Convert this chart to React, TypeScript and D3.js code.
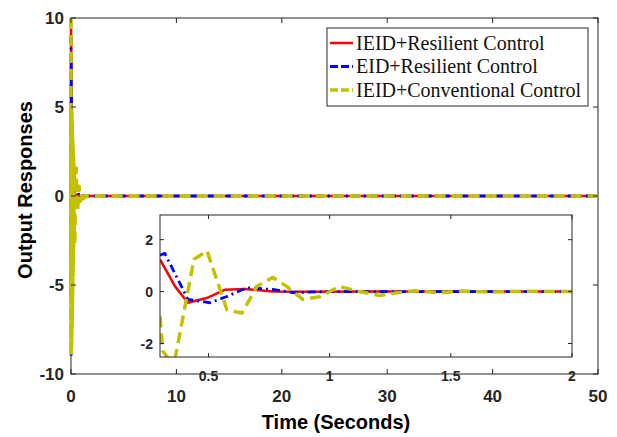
import React from "react";
import * as d3 from "d3";

type Pt = [number, number];

// Main-axis ticks
const mainXTicks = [0, 10, 20, 30, 40, 50];
const mainYTicks = [-10, -5, 0, 5, 10];
const insetXTicks = [0.5, 1, 1.5, 2];
const insetYTicks = [-2, 0, 2];

// Early (t < 0.3 s) oscillations seen as the dense band near t = 0
const redEarly: Pt[] = [
  [0, 10], [0.008, -6], [0.016, 9], [0.026, -5.5], [0.036, 7.5], [0.048, -5], [0.06, 6],
  [0.072, -4.2], [0.085, 5], [0.1, -3.5], [0.115, 4], [0.13, -3], [0.15, 3.2], [0.17, -2.4],
  [0.19, 2.6], [0.21, -1.8], [0.235, 2], [0.26, -1.2], [0.28, 1.5],
];
const blueEarly: Pt[] = [
  [0, 9], [0.01, -9], [0.02, 7.5], [0.032, -7.5], [0.044, 6], [0.056, -6], [0.07, 4.8],
  [0.085, -4.8], [0.1, 3.8], [0.116, -3.8], [0.132, 3], [0.15, -3], [0.17, 2.4], [0.19, -2.4],
  [0.21, 1.9], [0.235, -1.8], [0.26, 1.5], [0.28, -1],
];
const yellowEarly: Pt[] = [
  [0, 10], [0.006, -9], [0.014, 4.8], [0.022, -9], [0.03, 4.8], [0.038, -8.8], [0.046, 4.6],
  [0.054, -8.5], [0.062, 4.5], [0.07, -8.2], [0.078, 4.3], [0.086, -7.8], [0.094, 4.1],
  [0.102, -7.4], [0.11, 3.9], [0.118, -7], [0.126, 3.7], [0.134, -6.5], [0.142, 3.5],
  [0.15, -6], [0.158, 3.3], [0.166, -5.5], [0.174, 3.1], [0.182, -5], [0.19, 2.9],
  [0.198, -4.5], [0.206, 2.7], [0.214, -4], [0.222, 2.5], [0.23, -3.5], [0.238, 2.3],
  [0.246, -3], [0.254, 2.1], [0.262, -2.6], [0.27, 1.9], [0.278, -2.3], [0.286, 1.7],
  [0.294, -2],
];

// Zoomed responses (0.3 s – 2 s)
const redResp: Pt[] = [
  [0.3, 1.24], [0.362, 0.2], [0.415, -0.43], [0.493, -0.25], [0.567, 0.07], [0.65, 0.1],
  [0.765, 0], [0.9, -0.01], [1.2, 0], [2, 0],
];
const blueResp: Pt[] = [
  [0.3, 1.4], [0.32, 1.47], [0.415, -0.3], [0.506, -0.43], [0.576, -0.19], [0.658, 0.15],
  [0.765, 0.08], [0.848, -0.04], [0.988, 0], [2, 0],
];
const yellowResp: Pt[] = [
  [0.3, -0.96], [0.312, -2.3], [0.34, -2.65], [0.362, -2.6], [0.44, 1.24], [0.494, 1.57],
  [0.576, -0.7], [0.638, -0.83], [0.7, 0.2], [0.765, 0.55], [0.823, 0.2], [0.889, -0.3],
  [0.959, -0.2], [1.041, 0.2], [1.123, 0], [1.206, -0.15], [1.276, -0.05], [1.35, 0.03],
  [1.45, -0.04], [1.55, 0.02], [1.65, -0.02], [1.8, 0.01], [2, 0],
];
const tail: Pt[] = [[50, 0]];

const legendLabels = ["IEID+Resilient Control", "EID+Resilient Control", "IEID+Conventional Control"];

const RED = "#ff0000";
const BLUE = "#0000ff";
const YEL = "#c2c200";
const AX = "#262626";

const W = 617, H = 437;
const M = { l: 71, r: 598, t: 18, b: 374 };
const I = { l: 160, r: 572, t: 215, b: 357 };

export default function App() {
  const x = d3.scaleLinear().domain([0, 50]).range([M.l, M.r]);
  const y = d3.scaleLinear().domain([-10, 10]).range([M.b, M.t]);
  const xi = d3.scaleLinear().domain([0.3, 2]).range([I.l, I.r]);
  const yi = d3.scaleLinear().domain([-2.52, 2.95]).range([I.b, I.t]);

  const lineMain = d3.line<Pt>().x((d) => x(d[0])).y((d) => y(d[1]));
  const lineIn = d3.line<Pt>().x((d) => xi(d[0])).y((d) => yi(d[1]));

  const series = [
    { early: redEarly, resp: redResp, color: RED, w: 2.5, dash: undefined as string | undefined },
    { early: blueEarly, resp: blueResp, color: BLUE, w: 2.8, dash: "8 4 2 4" },
    { early: yellowEarly, resp: yellowResp, color: YEL, w: 3.5, dash: "11 6" },
  ];

  const tickFont = "'Liberation Sans', Arial, sans-serif";

  return (
    <svg width={W} height={H} style={{ position: "absolute", left: 0, top: 0, background: "#fff" }}>
      <defs>
        <clipPath id="mainClip">
          <rect x={M.l - 2} y={M.t} width={M.r - M.l + 2} height={M.b - M.t} />
        </clipPath>
        <clipPath id="inClip">
          <rect x={I.l} y={I.t} width={I.r - I.l} height={I.b - I.t} />
        </clipPath>
      </defs>
      <rect x={0} y={0} width={W} height={H} fill="#fff" />
      {/* main axes box */}
      <rect x={M.l} y={M.t} width={M.r - M.l} height={M.b - M.t} fill="none" stroke={AX} strokeWidth={1} />
      {/* main curves */}
      <g clipPath="url(#mainClip)">
        {series.map((s, i) => (
          <path
            key={i}
            d={lineMain([...s.early, ...s.resp, ...tail]) || ""}
            fill="none"
            stroke={s.color}
            strokeWidth={s.w}
            strokeDasharray={s.dash}
            strokeLinejoin="round"
          />
        ))}
      </g>
      {mainXTicks.map((t) => (
        <g key={"mx" + t}>
          <line x1={x(t)} x2={x(t)} y1={M.b} y2={M.b - 5} stroke={AX} />
          <line x1={x(t)} x2={x(t)} y1={M.t} y2={M.t + 5} stroke={AX} />
          <text x={x(t)} y={402} textAnchor="middle" fontFamily={tickFont} fontWeight="bold" fontSize={17} fill="#262626">
            {t}
          </text>
        </g>
      ))}
      {mainYTicks.map((t) => (
        <g key={"my" + t}>
          <line x1={M.l} x2={M.l + 5} y1={y(t)} y2={y(t)} stroke={AX} />
          <line x1={M.r} x2={M.r - 5} y1={y(t)} y2={y(t)} stroke={AX} />
          <text x={64} y={y(t) + 6} textAnchor="end" fontFamily={tickFont} fontWeight="bold" fontSize={17} fill="#262626">
            {t}
          </text>
        </g>
      ))}
      <text x={336} y={429} textAnchor="middle" fontFamily={tickFont} fontWeight="bold" fontSize={20} fill="#000">
        Time (Seconds)
      </text>
      <text
        transform={`translate(32,${(M.t + M.b) / 2 - 6}) rotate(-90)`}
        textAnchor="middle"
        fontFamily={tickFont}
        fontWeight="bold"
        fontSize={20}
        fill="#000"
      >
        Output Responses
      </text>

      {/* inset */}
      <rect x={I.l} y={I.t} width={I.r - I.l} height={I.b - I.t} fill="#fff" />
      <g clipPath="url(#inClip)">
        {series.map((s, i) => (
          <path
            key={i}
            d={lineIn(s.resp) || ""}
            fill="none"
            stroke={s.color}
            strokeWidth={s.w}
            strokeDasharray={s.dash}
            strokeLinejoin="round"
          />
        ))}
      </g>
      <rect x={I.l} y={I.t} width={I.r - I.l} height={I.b - I.t} fill="none" stroke={AX} strokeWidth={1} />
      {insetXTicks.map((t) => (
        <g key={"ix" + t}>
          <line x1={xi(t)} x2={xi(t)} y1={I.b} y2={I.b - 4} stroke={AX} />
          <line x1={xi(t)} x2={xi(t)} y1={I.t} y2={I.t + 4} stroke={AX} />
          <text x={xi(t)} y={381} textAnchor="middle" fontFamily={tickFont} fontWeight="bold" fontSize={14} fill="#262626">
            {t}
          </text>
        </g>
      ))}
      {insetYTicks.map((t) => (
        <g key={"iy" + t}>
          <line x1={I.l} x2={I.l + 4} y1={yi(t)} y2={yi(t)} stroke={AX} />
          <line x1={I.r} x2={I.r - 4} y1={yi(t)} y2={yi(t)} stroke={AX} />
          <text x={153} y={yi(t) + 5} textAnchor="end" fontFamily={tickFont} fontWeight="bold" fontSize={14} fill="#262626">
            {t}
          </text>
        </g>
      ))}

      {/* legend */}
      <rect x={327} y={28} width={261} height={78} fill="#fff" stroke={AX} strokeWidth={1} />
      {legendLabels.map((lab, i) => {
        const ly = 43 + i * 23.5;
        const s = series[i];
        return (
          <g key={lab}>
            <line
              x1={330}
              x2={353}
              y1={ly}
              y2={ly}
              stroke={s.color}
              strokeWidth={s.w}
              strokeDasharray={i === 0 ? undefined : "8 3"}
            />
            <text x={356} y={ly + 6.5} fontFamily="'Liberation Serif', 'DejaVu Serif', serif" fontSize={20} fill="#111">
              {lab}
            </text>
          </g>
        );
      })}
    </svg>
  );
}
